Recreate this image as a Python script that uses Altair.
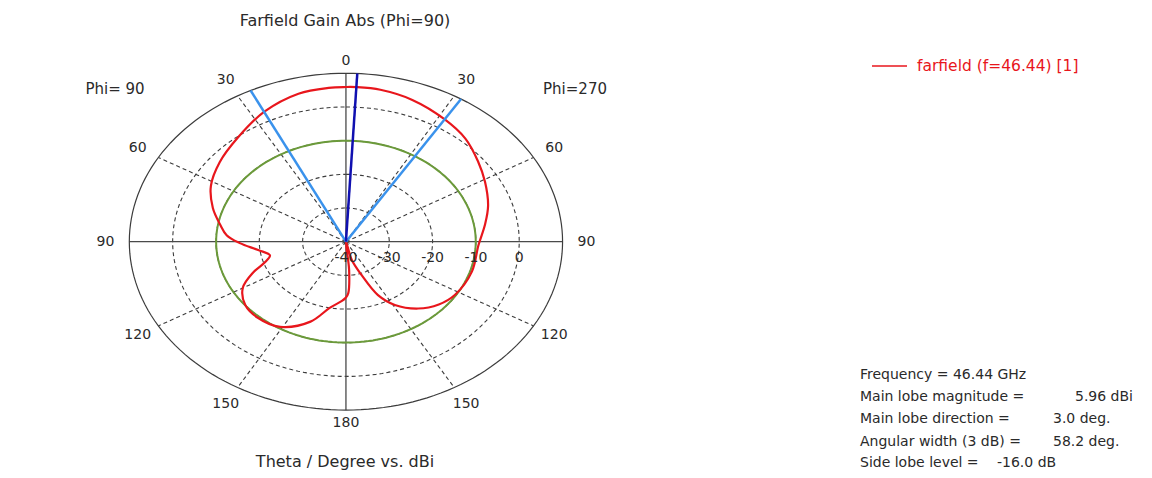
import altair as alt
import pandas as pd

# ---------------- data ----------------
theta_deg = [-180, -177, -169, -161, -149, -138, -129, -120, -113, -108,
             -103, -97, -91, -86, -80, -72, -62, -51, -39, -26,
             -14, -5, 0, 3, 10, 20, 32, 42, 52, 61,
             72, 81, 92, 107, 122, 131, 140, 149, 155, 160,
             166, 170, 175, 178, 180]
gain_dbi = [-23.4, -22.4, -19.9, -14.9, -10.5, -9.6, -10.1, -12.5, -16.8, -20.4,
            -22.0, -19.6, -15.5, -12.4, -10.5, -7.7, -4.7, -2.5, -0.3, 2.96,
            5.3, 5.85, 5.93, 5.96, 5.8, 4.8, 2.9, 1.2, -1.3, -3.3,
            -5.5, -7.5, -9.4, -9.6, -10.3, -11.6, -14.1, -18.1, -22.5, -29.5,
            -34.4, -42.0, -31.6, -24.7, -23.4]

main_lobe_dbi = 5.96
main_lobe_dir = 3.0
angular_width = 58.2
side_lobe_db = -16.0
r_min_db = -40
ring_db = [-30, -20, -10, 0]
outer_db = 10
db_tick_labels = [-40, -30, -20, -10, 0]
spoke_angles = [30, 60, 120, 150, -30, -60, -120, -150]
angle_label_pos = [0, -30, -60, -90, -120, -150, 180, 150, 120, 90, 60, 30]

title_text = "Farfield Gain Abs (Phi=90)"
bottom_text = "Theta / Degree vs. dBi"
phi_left = "Phi= 90"
phi_right = "Phi=270"
legend_text = "farfield (f=46.44) [1]"
info_labels = ["Frequency = 46.44 GHz", "Main lobe magnitude =", "Main lobe direction =",
               "Angular width (3 dB) =", "Side lobe level ="]
info_values = ["", "5.96 dBi", "3.0 deg.", "58.2 deg.", "-16.0 dB"]

# ---------------- tables ----------------
curve = pd.DataFrame({"t": theta_deg, "g": gain_dbi, "i": list(range(len(theta_deg)))})

ring_rows = []
for rdb in ring_db + [outer_db]:
    for a in range(0, 362, 2):
        ring_rows.append({"rdb": rdb, "a": a})
rings = pd.DataFrame(ring_rows)

sll_rows = [{"rdb": main_lobe_dbi + side_lobe_db, "a": a} for a in range(0, 362, 2)]
sll = pd.DataFrame(sll_rows)

spokes = pd.DataFrame({"a": spoke_angles})
axes_df = pd.DataFrame({"a": [0, 90]})
beams = pd.DataFrame({
    "a": [main_lobe_dir - angular_width / 2, main_lobe_dir + angular_width / 2, main_lobe_dir],
    "kind": ["edge", "edge", "main"],
})
ang_labels = pd.DataFrame({"a": angle_label_pos})
db_labels = pd.DataFrame({"db": db_tick_labels})

FONT = "DejaVu Sans"
TXT = "#2a2a2a"
R0 = -r_min_db
ROUT = outer_db - r_min_db

X = alt.X("x:Q", scale=alt.Scale(domain=[-78.0, 184.2], nice=False, zero=False), axis=None)
Y = alt.Y("y:Q", scale=alt.Scale(domain=[-67.79, 69.39], nice=False, zero=False), axis=None)

# grid rings
grid_rings = alt.Chart(rings).transform_calculate(
    r=f"datum.rdb + {R0}",
    x="datum.r * sin(datum.a * PI / 180)",
    y="datum.r * cos(datum.a * PI / 180)",
    dashed=f"datum.rdb < {outer_db}",
)
dashed_rings = grid_rings.transform_filter("datum.dashed").mark_line(
    color="#3c3c3c", strokeWidth=1.1, strokeDash=[4, 3]
).encode(x=X, y=Y, detail="rdb:N", order="a:Q")
outer_ring = grid_rings.transform_filter("!datum.dashed").mark_line(
    color="#3c3c3c", strokeWidth=1.2
).encode(x=X, y=Y, detail="rdb:N", order="a:Q")

spoke_layer = alt.Chart(spokes).transform_calculate(
    x="0", y="0",
    x2=f"{ROUT} * sin(datum.a * PI / 180)",
    y2=f"{ROUT} * cos(datum.a * PI / 180)",
).mark_rule(color="#3c3c3c", strokeWidth=1.1, strokeDash=[4, 3]).encode(
    x=X, y=Y, x2="x2:Q", y2="y2:Q"
)

axis_layer = alt.Chart(axes_df).transform_calculate(
    x=f"-{ROUT} * sin(datum.a * PI / 180)",
    y=f"-{ROUT} * cos(datum.a * PI / 180)",
    x2=f"{ROUT} * sin(datum.a * PI / 180)",
    y2=f"{ROUT} * cos(datum.a * PI / 180)",
).mark_rule(color="#4a4a4a", strokeWidth=1.3).encode(x=X, y=Y, x2="x2:Q", y2="y2:Q")

sll_layer = alt.Chart(sll).transform_calculate(
    r=f"datum.rdb + {R0}",
    x="datum.r * sin(datum.a * PI / 180)",
    y="datum.r * cos(datum.a * PI / 180)",
).mark_line(color="#6b9a3a", strokeWidth=2).encode(x=X, y=Y, order="a:Q")

curve_layer = alt.Chart(curve).transform_calculate(
    r=f"max(datum.g + {R0}, 0)",
    x="datum.r * sin(datum.t * PI / 180)",
    y="datum.r * cos(datum.t * PI / 180)",
).mark_line(color="#e8161c", strokeWidth=2.2, interpolate="catmull-rom").encode(
    x=X, y=Y, order="i:Q"
)

beam_layer = alt.Chart(beams).transform_calculate(
    x="0", y="0",
    x2=f"{ROUT} * sin(datum.a * PI / 180)",
    y2=f"{ROUT} * cos(datum.a * PI / 180)",
).mark_rule(strokeWidth=2.5).encode(
    x=X, y=Y, x2="x2:Q", y2="y2:Q",
    color=alt.Color("kind:N", scale=alt.Scale(domain=["main", "edge"], range=["#1010b0", "#3a92ec"]), legend=None),
)

ang_text = alt.Chart(ang_labels).transform_calculate(
    rr=f"(datum.a % 180 == 0) ? {ROUT + 3.8} : {ROUT + 5.5}",
    x="datum.rr * sin(datum.a * PI / 180)",
    y="datum.rr * cos(datum.a * PI / 180)",
    lab="abs(datum.a)",
).mark_text(font=FONT, fontSize=14, color=TXT, align="center", baseline="middle").encode(
    x=X, y=Y, text="lab:N"
)

db_text = alt.Chart(db_labels).transform_calculate(
    x=f"datum.db + {R0}", y="0",
).mark_text(font=FONT, fontSize=14, color=TXT, align="center", baseline="middle", dy=16).encode(
    x=X, y=Y, text="db:N"
)

def label(txt, x, y, size=14, color=TXT, align="center"):
    return alt.Chart(pd.DataFrame({"t": [txt]})).mark_text(
        font=FONT, fontSize=size, color=color, align=align, baseline="middle"
    ).encode(x=alt.value(x), y=alt.value(y), text="t:N")

texts = [
    label(title_text, 337, 13, 16),
    label(bottom_text, 337, 454, 16),
    label(phi_left, 107, 81, 15),
    label(phi_right, 567, 81, 15),
    label(legend_text, 909, 58, 15.5, "#e8161c", "left"),
]

legend_line = alt.Chart(pd.DataFrame({"k": [0]})).mark_rule(color="#e8161c", strokeWidth=1.5).encode(
    x=alt.value(864), x2=alt.value(899), y=alt.value(58)
)

info_y = [367, 389, 411, 433.5, 455]
value_x = [0, 1067, 1045, 1045, 989]
for k, lab in enumerate(info_labels):
    texts.append(label(lab, 852, info_y[k], 14, TXT, "left"))
    if info_values[k]:
        texts.append(label(info_values[k], value_x[k], info_y[k], 14, TXT, "left"))

chart = alt.layer(
    dashed_rings, spoke_layer, axis_layer, outer_ring, sll_layer, curve_layer, beam_layer,
    ang_text, db_text, legend_line, *texts
).properties(
    width=1136, height=462, padding=0, autosize="none", background="white"
).configure_view(stroke=None)

chart.save("out.html", embed_options={"renderer": "svg", "actions": False})
